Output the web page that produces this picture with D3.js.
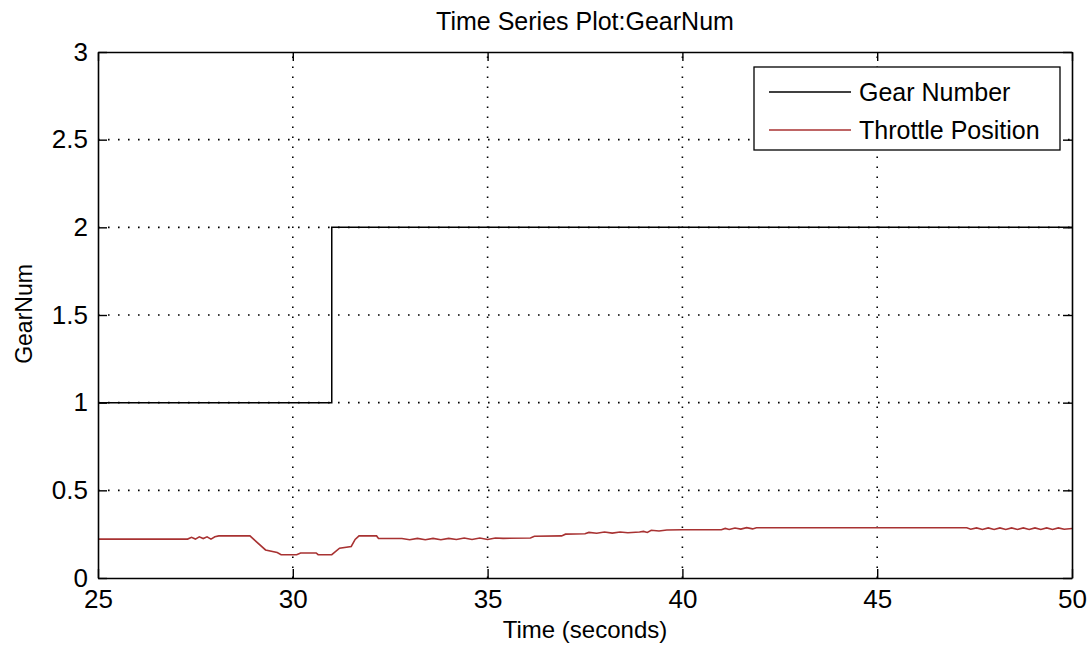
<!DOCTYPE html>
<html>
<head>
<meta charset="utf-8">
<script src="https://cdn.jsdelivr.net/npm/d3@7/dist/d3.min.js"></script>
<style>
  html, body { margin: 0; padding: 0; background: #fff; }
  svg { display: block; }
  text { font-family: "Liberation Sans", Arial, sans-serif; fill: #000; }
</style>
</head>
<body>
<svg id="chart" width="1089" height="654"></svg>
<script>
// ---- data ----
const titleText = "Time Series Plot:GearNum";
const xLabel = "Time (seconds)";
const yLabel = "GearNum";
const xTicks = [25, 30, 35, 40, 45, 50];
const yTicks = [0, 0.5, 1, 1.5, 2, 2.5, 3];
const seriesNames = ["Gear Number", "Throttle Position"];
const seriesColors = ["#000000", "#a83232"];

const gearTime  = [25, 31, 31, 50];
const gearValue = [1, 1, 2, 2];

const throttleTime = [25, 27.3, 27.4, 27.5, 27.6, 27.7, 27.8, 27.9, 28.0, 28.1, 28.9, 29.3, 29.6, 29.7, 30.1, 30.2, 30.6, 30.65, 31.0, 31.2, 31.5, 31.6, 31.7, 32.15, 32.2,
  32.8, 33.0, 33.2, 33.4, 33.6, 33.8, 34.0, 34.2, 34.4, 34.6, 34.8, 35.0, 35.2, 35.4, 36.1, 36.2, 36.9, 37.0, 37.5, 37.6, 37.8, 38.0, 38.2, 38.4, 38.6, 38.9, 39.0, 39.1, 39.2, 39.4, 39.6, 40.0, 41.0, 41.1, 41.2, 41.35, 41.5, 41.65, 41.8, 41.9,
  47.3, 47.4, 47.55, 47.7, 47.85, 48.0, 48.15, 48.3, 48.45, 48.6, 48.75, 48.9, 49.05, 49.2, 49.35, 49.5, 49.65, 49.8, 50];
const throttleValue = [0.222, 0.222, 0.232, 0.222, 0.235, 0.225, 0.235, 0.222, 0.235, 0.24, 0.24, 0.16, 0.145, 0.133, 0.133, 0.143, 0.143, 0.133, 0.133, 0.17, 0.18, 0.22, 0.24, 0.24, 0.225,
  0.225, 0.218, 0.226, 0.218, 0.226, 0.218, 0.226, 0.22, 0.228, 0.22, 0.228, 0.22, 0.228, 0.226, 0.228, 0.238, 0.24, 0.25, 0.252, 0.26, 0.255, 0.262, 0.256, 0.262, 0.258, 0.262, 0.266, 0.26, 0.272, 0.268, 0.274, 0.275, 0.275, 0.283, 0.277, 0.285, 0.279, 0.287, 0.28, 0.287,
  0.287, 0.278, 0.286, 0.277, 0.286, 0.277, 0.286, 0.277, 0.286, 0.277, 0.286, 0.277, 0.286, 0.277, 0.286, 0.277, 0.286, 0.278, 0.282];

// ---- layout ----
const svg = d3.select("#chart");
const L = 98, R = 1072, T = 52, B = 578;
const x = d3.scaleLinear().domain([25, 50]).range([L, R]);
const y = d3.scaleLinear().domain([0, 3]).range([B, T]);

// grid
const grid = svg.append("g").attr("stroke", "#000").attr("stroke-width", 1.6)
  .attr("stroke-dasharray", "1.6,8.4").attr("fill", "none");
grid.selectAll("line.gx").data(xTicks.slice(1, -1)).join("line")
  .attr("x1", d => x(d)).attr("x2", d => x(d)).attr("y1", B).attr("y2", T);
grid.selectAll("line.gy").data(yTicks.slice(1, -1)).join("line")
  .attr("y1", d => y(d)).attr("y2", d => y(d)).attr("x1", L).attr("x2", R);

// series
const line = d3.line().x(d => x(d[0])).y(d => y(d[1]));
svg.append("path")
  .attr("d", line(throttleTime.map((t, i) => [t, throttleValue[i]])))
  .attr("fill", "none").attr("stroke", seriesColors[1]).attr("stroke-width", 1.6);
svg.append("path")
  .attr("d", line(gearTime.map((t, i) => [t, gearValue[i]])))
  .attr("fill", "none").attr("stroke", seriesColors[0]).attr("stroke-width", 1.5);

// axes (inside ticks, box)
const tl = 9;
const axB = svg.append("g").attr("transform", `translate(0,${B})`)
  .call(d3.axisBottom(x).tickValues(xTicks).tickSizeInner(-tl).tickSizeOuter(0).tickPadding(12).tickFormat(d3.format("d")));
const axT = svg.append("g").attr("transform", `translate(0,${T})`)
  .call(d3.axisTop(x).tickValues(xTicks).tickSizeInner(-tl).tickSizeOuter(0).tickFormat(""));
const axL = svg.append("g").attr("transform", `translate(${L},0)`)
  .call(d3.axisLeft(y).tickValues(yTicks).tickSizeInner(-tl).tickSizeOuter(0).tickPadding(10).tickFormat(d3.format("")));
const axR = svg.append("g").attr("transform", `translate(${R},0)`)
  .call(d3.axisRight(y).tickValues(yTicks).tickSizeInner(-tl).tickSizeOuter(0).tickFormat(""));
[axB, axT, axL, axR].forEach(a => {
  a.select(".domain").attr("stroke", "#000").attr("stroke-width", 1.6);
  a.selectAll(".tick line").attr("stroke", "#000").attr("stroke-width", 1.4);
  a.selectAll("text").attr("font-size", 26).attr("font-family", "'Liberation Sans', Arial, sans-serif").attr("fill", "#000");
});

// title & labels
svg.append("text").attr("x", 585).attr("y", 30).attr("text-anchor", "middle")
  .attr("font-size", 25).text(titleText);
svg.append("text").attr("x", 585).attr("y", 638).attr("text-anchor", "middle")
  .attr("font-size", 24).text(xLabel);
svg.append("text").attr("transform", "translate(32,314) rotate(-90)").attr("text-anchor", "middle")
  .attr("font-size", 23).text(yLabel);

// legend
const lg = svg.append("g");
lg.append("rect").attr("x", 754).attr("y", 67).attr("width", 306).attr("height", 83)
  .attr("fill", "#fff").attr("stroke", "#000").attr("stroke-width", 1.3);
const rows = lg.selectAll("g.row").data(seriesNames).join("g")
  .attr("transform", (d, i) => `translate(0,${92 + i * 38})`);
rows.append("line").attr("x1", 769).attr("x2", 851).attr("y1", 0).attr("y2", 0)
  .attr("stroke", (d, i) => seriesColors[i]).attr("stroke-width", 1.6);
rows.append("text").attr("x", 859).attr("y", 0).attr("dy", "0.35em")
  .attr("font-size", 25).text(d => d);
</script>
</body>
</html>
